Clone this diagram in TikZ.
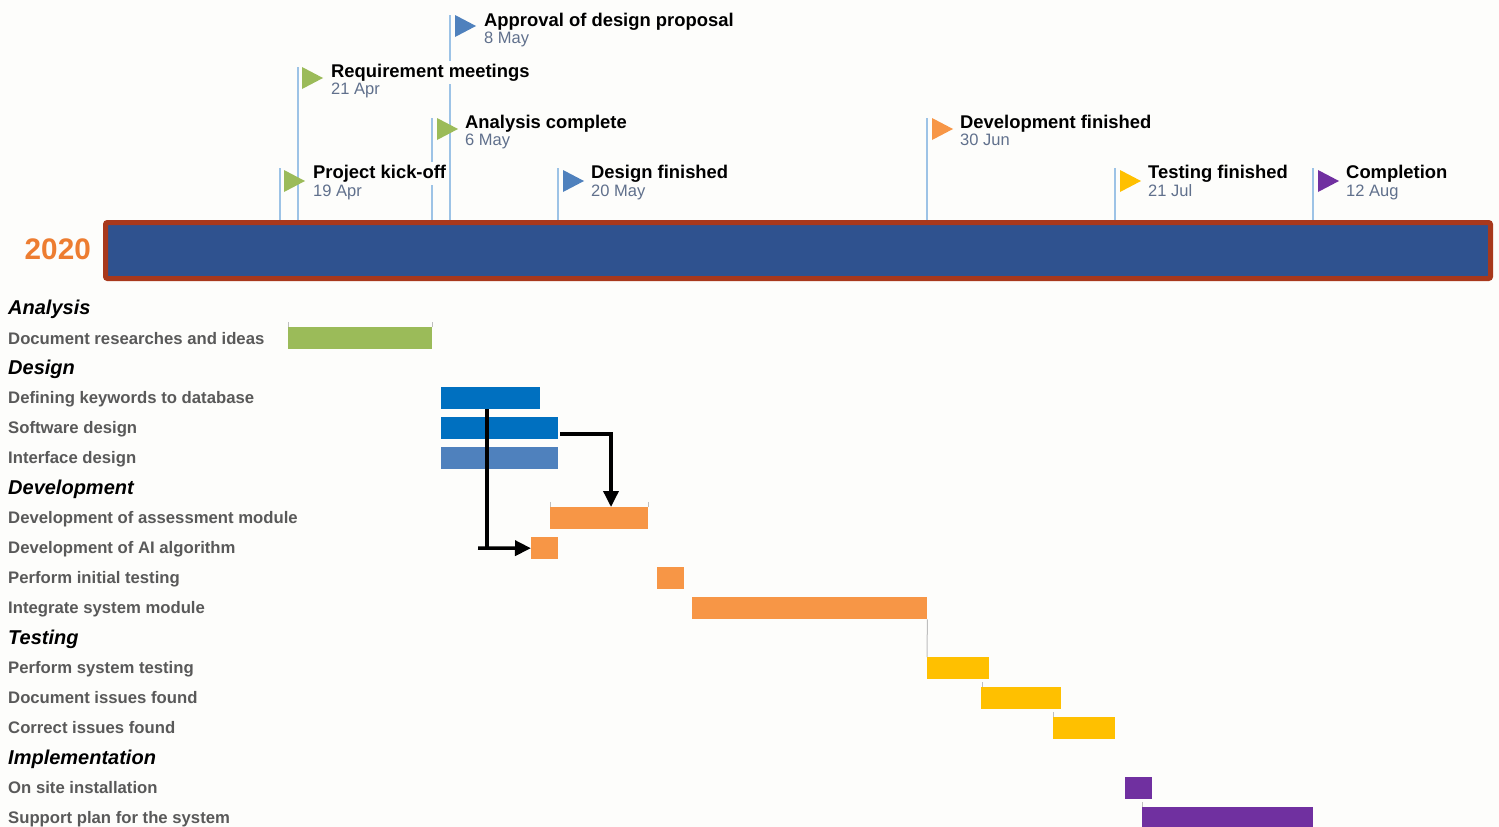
\documentclass[tikz,border=0pt]{standalone}
\usepackage{fontspec}
\setmainfont{Liberation Sans}
\usetikzlibrary{arrows.meta}

\definecolor{bg}{RGB}{253,253,251}
\definecolor{msline}{RGB}{157,195,230}
\definecolor{msdate}{RGB}{96,112,140}
\definecolor{tasktext}{RGB}{89,89,89}
\definecolor{yearorange}{RGB}{237,125,49}
\definecolor{barfill}{RGB}{47,82,143}
\definecolor{barrim}{RGB}{168,56,28}
\definecolor{cgreen}{RGB}{155,187,89}
\definecolor{cblue}{RGB}{0,112,192}
\definecolor{clblue}{RGB}{79,129,189}
\definecolor{corange}{RGB}{247,150,70}
\definecolor{cyellow}{RGB}{255,192,0}
\definecolor{cpurple}{RGB}{112,48,160}
\definecolor{tickgray}{RGB}{190,190,190}

\tikzset{
  msstem/.style={draw=msline, line width=1.5pt},
  mstitle/.style={anchor=base west, inner sep=3pt, fill=bg, text=black,
    font=\fontsize{18.4}{20}\selectfont\bfseries},
  msdatetext/.style={anchor=base west, inner sep=2pt, text=msdate,
    font=\fontsize{16.5}{18}\selectfont},
  heading/.style={anchor=base west, inner sep=0pt, text=black,
    font=\fontsize{20}{22}\selectfont\bfseries\itshape},
  tasklabel/.style={anchor=base west, inner sep=0pt, text=tasktext,
    font=\fontsize{16.7}{19}\selectfont\bfseries},
  taskbar/.style={anchor=north west, inner sep=0pt, minimum height=22pt, draw=none},
  linkarrow/.style={draw=black, line width=3.5pt, line join=miter,
    -{Triangle[length=16pt,width=15pt]}},
  linkline/.style={draw=black, line width=3.5pt},
  tick/.style={draw=tickgray, line width=1pt}
}

\begin{document}
\begin{tikzpicture}[x=1pt,y=-1pt]
\useasboundingbox[fill=bg] (0,0) rectangle (1499,827);

% milestone stems
\foreach \lx/\ly in {280/168, 298/67, 432/118, 450/15, 558/168, 927/118, 1115/168, 1313/168}
  \draw[msstem] (\lx,\ly) -- (\lx,220);

% milestone flags and captions
\foreach \nm/\fx/\fy/\tx/\tb/\db/\col/\ttl/\dt in {
    kick/284/181/313/178/196.5/cgreen/Project kick-off/19 Apr,
    req/302/78/331/77/94/cgreen/Requirement meetings/21 Apr,
    anl/437/129/465/128/145/cgreen/Analysis complete/6 May,
    appr/455/26/484/26/43/clblue/Approval of design proposal/8 May,
    desf/563/181/591/178/196.5/clblue/Design finished/20 May,
    devf/932/129/960/128/145/corange/Development finished/30 Jun,
    testf/1120/181/1148/178/196.5/cyellow/Testing finished/21 Jul,
    compl/1318/181/1346/178/196.5/cpurple/Completion/12 Aug} {
  \fill[\col] (\fx,\fy-11) -- (\fx+21,\fy) -- (\fx,\fy+11) -- cycle;
  \node[mstitle] (t-\nm) at (\tx-3,\tb) {\ttl};
  \node[msdatetext] (d-\nm) at (\tx-2,\db) {\dt};
}

% year band
\node[anchor=base east, inner sep=0pt, text=yearorange,
      font=\fontsize{29.7}{32}\selectfont\bfseries] (year) at (91,259) {2020};
\draw[draw=barrim, fill=barfill, line width=5pt, rounded corners=2pt]
  (105.5,222.5) rectangle (1490.5,278.5);

% task list
\foreach \ty/\txt in {314/Analysis, 374/Design, 494/Development, 644/Testing, 764/Implementation}
  \node[heading] at (8,\ty) {\txt};
\foreach \ty/\txt in {
    344/Document researches and ideas,
    403/Defining keywords to database,
    433/Software design,
    463/Interface design,
    523/Development of assessment module,
    553/Development of AI algorithm,
    583/Perform initial testing,
    613/Integrate system module,
    673/Perform system testing,
    703/Document issues found,
    733/Correct issues found,
    793/On site installation,
    823/Support plan for the system}
  \node[tasklabel] at (8,\ty) {\txt};

% task bars
\node[taskbar, fill=cgreen,  minimum width=144pt] (docres) at (288,327) {};
\node[taskbar, fill=cblue,   minimum width=99pt]  (keyw)   at (441,387) {};
\node[taskbar, fill=cblue,   minimum width=117pt] (soft)   at (441,417) {};
\node[taskbar, fill=clblue,  minimum width=117pt] (iface)  at (441,447) {};
\node[taskbar, fill=corange, minimum width=98pt]  (assess) at (550,507) {};
\node[taskbar, fill=corange, minimum width=27pt]  (aialg)  at (531,537) {};
\node[taskbar, fill=corange, minimum width=27pt]  (inittest) at (657,567) {};
\node[taskbar, fill=corange, minimum width=235pt] (integ)  at (692,597) {};
\node[taskbar, fill=cyellow, minimum width=62pt]  (systest) at (927,657) {};
\node[taskbar, fill=cyellow, minimum width=80pt]  (dociss) at (981,687) {};
\node[taskbar, fill=cyellow, minimum width=62pt]  (corriss) at (1053,717) {};
\node[taskbar, fill=cpurple, minimum width=27pt]  (onsite) at (1125,777) {};
\node[taskbar, fill=cpurple, minimum width=171pt, minimum height=20pt] (support) at (1142,807) {};

% faint bar-end ticks and dependency lines
\draw[tick] (docres.north west) -- ++(0,-5);
\draw[tick] (docres.north east) -- ++(0,-5);
\draw[tick] (assess.north west) -- ++(0,-5);
\draw[tick] (assess.north east) -- ++(0,-5);
\draw[tick] (integ.south east) -- (systest.north west);
\draw[tick] (dociss.north west) ++(1,0) -- ++(0,-5);
\draw[tick] (corriss.north west) -- ++(0,-5);
\draw[tick] (support.north west) -- ++(0,-5);

% dependency arrows
\coordinate (bend1) at (487,548);
\coordinate (stub1) at (478,548);
\draw[linkline] (keyw.south -| bend1) -- (bend1);
\draw[linkarrow] (stub1) -- (aialg.west);

\coordinate (bend2) at (611,434);
\draw[linkarrow] (bend2 -| soft.east) ++(2,0) -| (assess.north -| bend2);
\end{tikzpicture}
\end{document}
